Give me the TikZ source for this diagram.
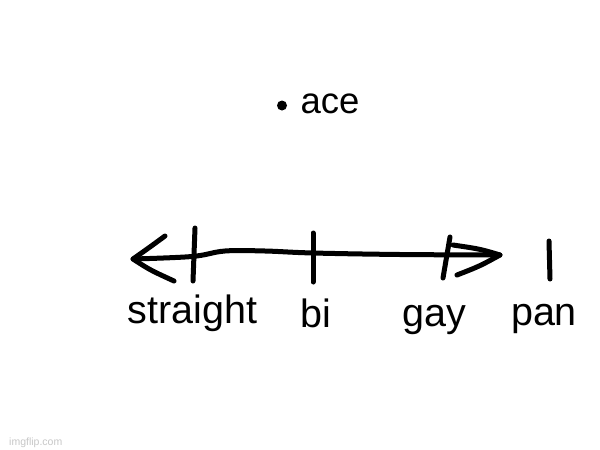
\documentclass[tikz,border=0pt]{standalone}
\usepackage{fontspec}
\setmainfont{Liberation Sans}
\begin{document}
\begin{tikzpicture}[x=1pt,y=-1pt,
  ink/.style={line width=5pt, line cap=round, line join=round, black},
  lbl/.style={anchor=base, inner sep=0pt, font=\fontsize{39.5}{41}\selectfont},
  wm/.style={anchor=base west, inner sep=0pt, text=black!22, font=\fontsize{10.5}{12}\selectfont}]
\useasboundingbox[fill=white] (0,0) rectangle (600,450);
% main line
\coordinate (tipL) at (133,259);
\coordinate (tipR) at (500,255);
\draw[ink] plot[smooth, tension=0.6] coordinates {(tipL) (192,256.5) (225,251) (265,251) (313,253) (400,254.5) (tipR)};
% left arrowhead
\coordinate (la1) at (165,236);
\coordinate (la2) at (174,281);
\draw[ink] (la1) .. controls (150,247) .. (tipL) .. controls (150,270) .. (la2);
% right arrowhead
\coordinate (ra1) at (453,245);
\coordinate (ra2) at (457,275);
\draw[ink] (ra1) .. controls (480,249) .. (tipR) .. controls (480,266) .. (ra2);
% ticks
\coordinate (t1a) at (195,228); \coordinate (t1b) at (193,281);
\coordinate (t2a) at (313,233); \coordinate (t2b) at (313,282);
\coordinate (t3a) at (450,237); \coordinate (t3b) at (443,278);
\coordinate (t4a) at (549,241); \coordinate (t4b) at (550,279);
\draw[ink] (t1a) -- (t1b);
\draw[ink] (t2a) -- (t2b);
\draw[ink] (t3a) -- (t3b);
\draw[ink] (t4a) -- (t4b);
% labels
\node[lbl] (straight) at (192.5,323) {straight};
\node[lbl] (bi) at (316,327) {bi};
\node[lbl] (gay) at (434,326) {gay};
\node[lbl] (pan) at (544,325) {pan};
% ace
\fill (282,105.5) circle (5);
\node[anchor=base west, inner sep=0pt, font=\fontsize{36.5}{38}\selectfont] (ace) at (300.5,113) {ace};
% watermark
\node[wm] (imgflip) at (9,445) {imgflip.com};
\end{tikzpicture}
\end{document}
